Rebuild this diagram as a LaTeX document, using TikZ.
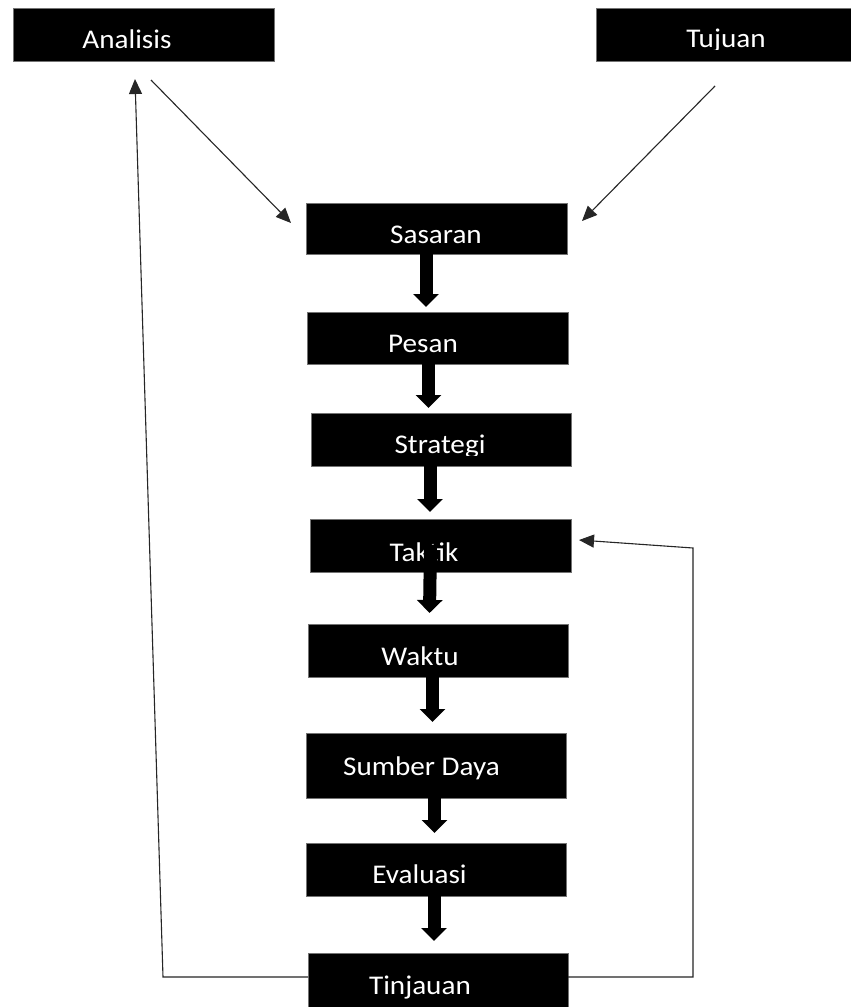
\documentclass[tikz,border=0pt]{standalone}
\usepackage{fontspec}
\setmainfont{Carlito}[FakeStretch=1.08]
\usetikzlibrary{arrows.meta,calc}
\tikzset{
  box/.style={fill=black, draw=black!55, line width=0.6pt, inner sep=0pt, outer sep=0pt},
  lbl/.style={text=white, anchor=base, inner sep=0pt, font=\fontsize{27}{32}\selectfont},
  flow/.style={line width=13pt, -{Triangle[length=13pt,width=25pt]}},
  link/.style={line width=1.1pt, draw=black!85, -{Triangle[length=15pt,width=13pt]}},
}
\begin{document}
\begin{tikzpicture}[x=1pt,y=-1pt]
\useasboundingbox (0,0) rectangle (851,1007);
\fill[white] (0,0) rectangle (851,1007);

% boxes
\node[box, minimum width=261pt, minimum height=53pt] (analisis) at (143.5,34.5) {};
\node[box, minimum width=256pt, minimum height=53pt] (tujuan)   at (724,34.5) {};
\node[box, minimum width=261pt, minimum height=51pt] (sasaran)  at (436.5,228.5) {};
\node[box, minimum width=261pt, minimum height=52pt] (pesan)    at (437.5,338) {};
\node[box, minimum width=260pt, minimum height=53pt] (strategi) at (441,439.5) {};
\node[box, minimum width=261pt, minimum height=53pt] (taktik)   at (440.5,545.5) {};
\node[box, minimum width=260pt, minimum height=53pt] (waktu)    at (438,650.5) {};
\node[box, minimum width=260pt, minimum height=65pt] (sumber)   at (436,765.5) {};
\node[box, minimum width=260pt, minimum height=53pt] (evaluasi) at (436,869.5) {};
\node[box, minimum width=260pt, minimum height=56pt] (tinjauan) at (438,981) {};

% labels (the text frames of Tujuan and Strategi cut off the descenders)
\node[lbl] (l-analisis) at (127,48)   {Analisis};
\begin{scope}
  \clip (596,8) rectangle (851,49);
  \node[lbl] (l-tujuan) at (726,47) {Tujuan};
\end{scope}
\node[lbl] (l-sasaran)  at (436,243)  {Sasaran};
\node[lbl] (l-pesan)    at (423,352)  {Pesan};
\begin{scope}
  \clip (311,413) rectangle (571,455);
  \node[lbl] (l-strategi) at (440,453) {Strategi};
\end{scope}
\node[lbl] (l-taktik)   at (424,561)  {Taktik};
\node[lbl] (l-waktu)    at (420,665)  {Waktu};
\node[lbl] (l-sumber)   at (421.5,775){Sumber Daya};
\node[lbl] (l-evaluasi) at (419.5,883){Evaluasi};
\node[lbl] (l-tinjauan) at (420,994)  {Tinjauan};

% main flow
\draw[flow] ($(sasaran.south)+(-10.5,0)$) -- ($(pesan.north)+(-11.5,-5)$);
\draw[flow] ($(pesan.south)+(-9,0)$)      -- ($(strategi.north)+(-12.5,-5)$);
\draw[flow] ($(strategi.south)+(-11,0)$)  -- ($(taktik.north)+(-10.5,-7)$);
\draw[flow] ($(taktik.center)+(-10,-1)$)  -- ($(waktu.north)+(-8.5,-11)$);
\draw[flow] ($(waktu.south)+(-5.5,0)$)    -- ($(sumber.north)+(-3.5,-11)$);
\draw[flow] ($(sumber.south)+(-1.5,0)$)   -- ($(evaluasi.north)+(-1.5,-10)$);
\draw[flow] ($(evaluasi.south)+(-2,0)$)   -- ($(tinjauan.north)+(-4,-12)$);

% inputs into Sasaran
\coordinate (from-analisis) at (151,80);
\coordinate (from-tujuan)   at (715,86);
\draw[link] (from-analisis) -- ($(sasaran.west)+(-15,-5.5)$);
\draw[link] (from-tujuan)   -- ($(sasaran.east)+(15,-7.5)$);

% feedback loops from Tinjauan
\coordinate (left-corner)  at (163,977);
\coordinate (analisis-tip) at (135,79);
\draw[link] ($(tinjauan.west)+(0,-4)$) -- (left-corner) -- (analisis-tip);

\coordinate (right-corner) at (693,977);
\coordinate (right-top)    at (693,548);
\draw[link] ($(tinjauan.east)+(0,-4)$) -- (right-corner) -- (right-top) -- ($(taktik.east)+(8,-5.5)$);
\end{tikzpicture}
\end{document}
